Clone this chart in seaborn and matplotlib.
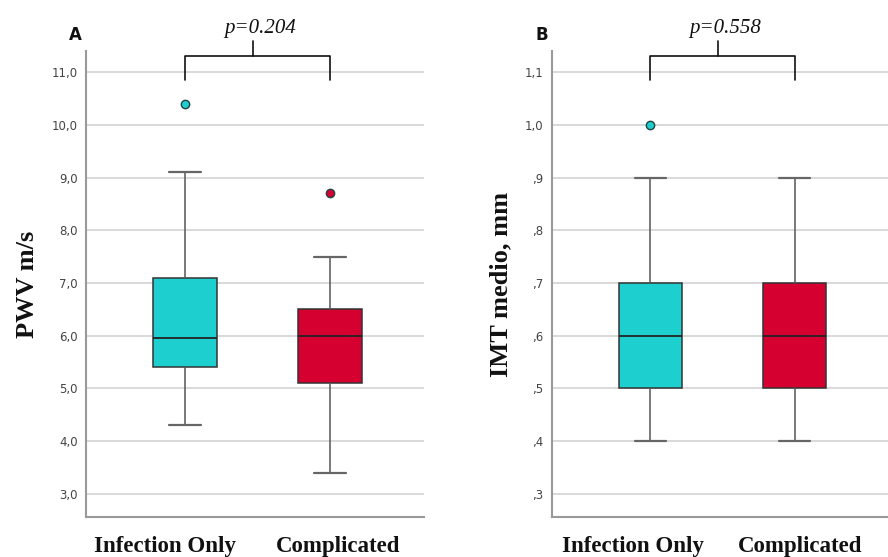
import matplotlib
matplotlib.use("Agg")
import matplotlib.pyplot as plt
import matplotlib.transforms as mtransforms
import seaborn as sns

sns.set_theme(style="white")
plt.rcParams['font.family'] = ['DejaVu Sans']

# Data (summary stats)
groups = ["Infection Only", "Complicated"]
colors = ["#1ECFCF", "#D5002F"]

pwv_whislo = [4.3, 3.4]
pwv_q1 = [5.4, 5.1]
pwv_med = [5.95, 6.0]
pwv_q3 = [7.1, 6.5]
pwv_whishi = [9.1, 7.5]
pwv_fliers = [[10.4], [8.7]]
pwv_ticks = [3, 4, 5, 6, 7, 8, 9, 10, 11]
pwv_ticklabels = ["3,0", "4,0", "5,0", "6,0", "7,0", "8,0", "9,0", "10,0", "11,0"]
pwv_p = "p=0.204"

imt_whislo = [0.4, 0.4]
imt_q1 = [0.5, 0.5]
imt_med = [0.6, 0.6]
imt_q3 = [0.7, 0.7]
imt_whishi = [0.9, 0.9]
imt_fliers = [[1.0], []]
imt_ticks = [0.3, 0.4, 0.5, 0.6, 0.7, 0.8, 0.9, 1.0, 1.1]
imt_ticklabels = [",3", ",4", ",5", ",6", ",7", ",8", ",9", "1,0", "1,1"]
imt_p = "p=0.558"


def make_stats(lo, q1, med, q3, hi, fl):
    return [dict(whislo=lo[i], q1=q1[i], med=med[i], q3=q3[i], whishi=hi[i],
                 fliers=fl[i], label=groups[i]) for i in range(len(groups))]


def draw_panel(fig, ax, stats, ticks, ticklabels, ylim, ylabel, letter, ptext, br, label_shift):
    # br: (bracket line y, tick bottom y, stem top y, text y)
    for i, st in enumerate(stats):
        ax.bxp([st], positions=[i], widths=0.44, patch_artist=True,
               boxprops=dict(facecolor=colors[i], edgecolor="#333333", linewidth=1.1),
               medianprops=dict(color="#222222", linewidth=1.3),
               whiskerprops=dict(color="#555555", linewidth=1.1),
               capprops=dict(color="#666666", linewidth=1.6),
               capwidths=0.22,
               flierprops=dict(marker="o", markersize=6, markerfacecolor=colors[i],
                               markeredgecolor="#224444", markeredgewidth=1.0),
               zorder=3)
    ax.set_xlim(-0.683, 1.648)
    ax.set_ylim(*ylim)
    ax.set_yticks(ticks)
    ax.set_yticklabels(ticklabels, fontsize=8.5, color="#444444")
    ax.set_xticks([0, 1])
    ax.set_xticklabels(groups, fontsize=16.5, fontweight="bold",
                       family="Liberation Serif", color="#111111")
    ax.tick_params(axis="x", length=0, pad=14)
    ax.tick_params(axis="y", length=0, pad=6)
    # the category labels sit slightly off the box centres in the original
    for lab, dx in zip(ax.get_xticklabels(), label_shift):
        off = mtransforms.ScaledTranslation(dx / 100.0, 0, fig.dpi_scale_trans)
        lab.set_transform(lab.get_transform() + off)
    ax.set_ylabel(ylabel, fontsize=19, fontweight="bold", family="Liberation Serif",
                  color="#111111", labelpad=9)
    ax.yaxis.grid(True, color="#D3D3D3", linewidth=1.2, zorder=0)
    ax.set_axisbelow(True)
    for s in ["top", "right"]:
        ax.spines[s].set_visible(False)
    for s in ["left", "bottom"]:
        ax.spines[s].set_color("#999999")
        ax.spines[s].set_linewidth(1.5)

    yb, yt, ys, ytx = br
    ax.plot([0, 0, 1, 1], [yt, yb, yb, yt], color="#111111", linewidth=1.2,
            clip_on=False, zorder=4)
    ax.plot([0.47, 0.47], [yb, ys], color="#111111", linewidth=1.2,
            clip_on=False, zorder=4)
    ax.text(0.52, ytx, ptext, ha="center", va="center", fontsize=15,
            style="italic", family="Liberation Serif", color="#111111", clip_on=False)
    ax.text(-0.03, 1.035, letter, transform=ax.transAxes, ha="center", va="center",
            fontsize=12, fontweight="bold", color="#111111")


fig = plt.figure(figsize=(8.88, 5.57), dpi=100)
ax1 = fig.add_axes([0.0968, 0.0718, 0.3807, 0.8366])
ax2 = fig.add_axes([0.6216, 0.0718, 0.3784, 0.8366])

draw_panel(fig, ax1, make_stats(pwv_whislo, pwv_q1, pwv_med, pwv_q3, pwv_whishi, pwv_fliers),
           pwv_ticks, pwv_ticklabels, (2.56, 11.4), "PWV m/s", "A", pwv_p,
           (11.30, 10.85, 11.59, 11.82), (-20, 8))
draw_panel(fig, ax2, make_stats(imt_whislo, imt_q1, imt_med, imt_q3, imt_whishi, imt_fliers),
           imt_ticks, imt_ticklabels, (0.256, 1.14), "IMT medio, mm", "B", imt_p,
           (1.130, 1.085, 1.159, 1.182), (-17, 5))

fig.savefig("out.png", dpi=100, facecolor="white")
